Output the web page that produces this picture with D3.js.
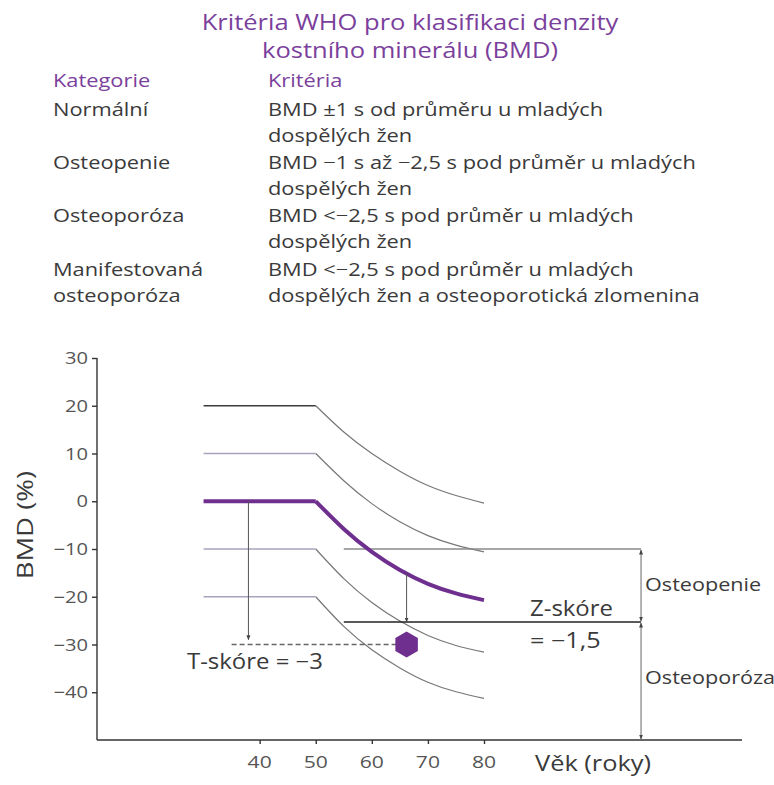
<!DOCTYPE html>
<html>
<head>
<meta charset="utf-8">
<script src="https://cdn.jsdelivr.net/npm/d3@7"></script>
<style>
  body { margin: 0; background: #fff; }
  svg { display: block; font-family: "Open Sans", "Noto Sans", sans-serif; }
</style>
</head>
<body>
<div class="container"></div>
<script>
// DATA

// title and the WHO table
const titleLines = ["Kritéria WHO pro klasifikaci denzity", "kostního minerálu (BMD)"];
const tableHeader = ["Kategorie", "Kritéria"];
const categories = ["Normální", "Osteopenie", "Osteoporóza", "Manifestovaná\nosteoporóza"];
const criteria = [
  "BMD ±1 s od průměru u mladých\ndospělých žen",
  "BMD −1 s až −2,5 s pod průměr u mladých\ndospělých žen",
  "BMD <−2,5 s pod průměr u mladých\ndospělých žen",
  "BMD <−2,5 s pod průměr u mladých\ndospělých žen a osteoporotická zlomenina"
];

// curves of BMD (%) by age: flat from 30 to 50, then falling
const ages = [30, 50, 55, 60, 65, 70, 75, 80];
const curvePlus2 = [20, 20, 14.5, 10, 6.3, 3.3, 1.2, -0.4];
const curvePlus1 = [10, 10, 4.3, -0.5, -4.3, -7.2, -9.2, -10.6];
const curveMean = [0, 0, -5.8, -10.6, -14.4, -17.3, -19.3, -20.7];
const curveMinus1 = [-10, -10, -16.2, -21.2, -25.1, -28.1, -30.2, -31.6];
const curveMinus2 = [-20, -20, -26.2, -31.1, -34.9, -37.9, -39.9, -41.3];

// axes
const yTicks = [30, 20, 10, 0, -10, -20, -30, -40];
const xTicks = [40, 50, 60, 70, 80];

// patient and thresholds
const patient = { age: 66.2, bmd: -30 };
const tScoreLine = { age: 38, top: 0, bottom: -29 };
const tScoreDashStart = 35;
const zScoreTop = -15.2; // mean curve at the patient's age
const osteopeniaLimit = -10;
const osteoporosisLimit = -25.3;
const zoneAges = [55, 108];

// SETUP
const container = d3.select("div.container");
const svg = container.append("svg")
  .attr("width", 774)
  .attr("height", 785);

const purple = "#6e2f8f";
const titlePurple = "#7b3f9c";
const textGray = "#3a3a3a";

// text drawn a bit wider than the font, as the scan is
function addText(parent, px, py, txt, size, sx, color, anchor) {
  return parent.append("text")
    .attr("transform", `translate(${px},${py}) scale(${sx},1)`)
    .attr("text-anchor", anchor || "start")
    .attr("fill", color || textGray)
    .style("font-size", size + "px")
    .text(txt);
}

// title
titleLines.forEach((t, i) => addText(svg, 410, 30 + i * 28, t, 22, 1.16, titlePurple, "middle"));

// table
tableHeader.forEach((t, i) => addText(svg, i === 0 ? 53 : 268, 87, t, 18.5, 1.18, titlePurple));

const rowY = [116, 169, 222, 276];
categories.forEach((c, i) => {
  c.split("\n").forEach((line, j) => addText(svg, 53, rowY[i] + j * 26, line, 18.5, 1.18));
  criteria[i].split("\n").forEach((line, j) => addText(svg, 268, rowY[i] + j * 26, line, 18.5, 1.18));
});

// CHART
const x = d3.scaleLinear().domain([11, 126]).range([97, 742]);
const y = d3.scaleLinear().domain([-50, 30]).range([740, 358]);

// axes
const yAxis = svg.append("g")
  .attr("transform", `translate(${x(11)},0)`)
  .call(d3.axisLeft(y).tickValues(yTicks).tickSize(5).tickFormat(""))
  .call(g => g.select(".domain").attr("d", `M0,${y(30)}V${y(-50)}`))
  .call(g => g.selectAll("line, path").attr("stroke", "#333").attr("stroke-width", 1.4));
yTicks.forEach(v => addText(svg, 88, y(v) + 6, v < 0 ? "−" + Math.abs(v) : String(v), 16.5, 1.22, "#555", "end"));

svg.append("g")
  .attr("transform", `translate(0,${y(-50)})`)
  .call(d3.axisBottom(x).tickValues(xTicks).tickSize(4).tickFormat(""))
  .call(g => g.select(".domain").attr("d", `M${x(11)},0H${x(126)}`))
  .call(g => g.selectAll("line, path").attr("stroke", "#333").attr("stroke-width", 1.4));
xTicks.forEach(v => addText(svg, x(v), 768, String(v), 16.5, 1.28, "#555", "middle"));

svg.append("text")
  .attr("transform", `translate(33,${y(-5)}) rotate(-90) scale(1.25,1)`)
  .attr("text-anchor", "middle")
  .attr("fill", textGray)
  .style("font-size", "22px")
  .text("BMD (%)");

addText(svg, 535, 771, "Věk (roky)", 21, 1.21);

// curves: straight flat part, smooth falling part
const flatLine = d3.line()
  .x((d, i) => x(ages[i]))
  .y(d => y(d));

const bendLine = d3.line()
  .defined((d, i) => i >= 1)
  .x((d, i) => x(ages[i]))
  .y(d => y(d))
  .curve(d3.curveNatural);

const grayCurves = [
  { data: curvePlus2, flat: "#3c3c3c" },
  { data: curvePlus1, flat: "#aaa2bc" },
  { data: curveMinus1, flat: "#aaa2bc" },
  { data: curveMinus2, flat: "#aaa2bc" }
];

grayCurves.forEach(c => {
  svg.append("path")
    .datum(c.data)
    .attr("d", bendLine)
    .attr("fill", "none")
    .attr("stroke", "#777")
    .attr("stroke-width", 1.2);
  svg.append("path")
    .datum(c.data.slice(0, 2))
    .attr("d", flatLine)
    .attr("fill", "none")
    .attr("stroke", c.flat)
    .attr("stroke-width", 1.6);
});

// zone lines
svg.append("line")
  .attr("x1", x(zoneAges[0])).attr("x2", x(zoneAges[1]))
  .attr("y1", y(osteopeniaLimit)).attr("y2", y(osteopeniaLimit))
  .attr("stroke", "#8a8a8a").attr("stroke-width", 1.6);
svg.append("line")
  .attr("x1", x(zoneAges[0])).attr("x2", x(zoneAges[1]))
  .attr("y1", y(osteoporosisLimit)).attr("y2", y(osteoporosisLimit))
  .attr("stroke", "#222").attr("stroke-width", 1.6);

// mean curve (purple, thick)
svg.append("path")
  .datum(curveMean.slice(0, 2))
  .attr("d", flatLine)
  .attr("fill", "none")
  .attr("stroke", purple)
  .attr("stroke-width", 4);
svg.append("path")
  .datum(curveMean)
  .attr("d", bendLine)
  .attr("fill", "none")
  .attr("stroke", purple)
  .attr("stroke-width", 4)
  .attr("stroke-linejoin", "round");

// arrow marker
svg.append("defs").append("marker")
  .attr("id", "arrow")
  .attr("viewBox", "0 0 10 10")
  .attr("refX", 9).attr("refY", 5)
  .attr("markerWidth", 5).attr("markerHeight", 5)
  .attr("orient", "auto-start-reverse")
  .append("path")
  .attr("d", "M0,1L10,5L0,9Z")
  .attr("fill", "#444");

// T-score line
svg.append("line")
  .attr("x1", x(tScoreLine.age)).attr("x2", x(tScoreLine.age))
  .attr("y1", y(tScoreLine.top)).attr("y2", y(tScoreLine.bottom))
  .attr("stroke", "#555").attr("stroke-width", 1)
  .attr("marker-end", "url(#arrow)");

svg.append("line")
  .attr("x1", x(tScoreDashStart)).attr("x2", x(patient.age) - 8)
  .attr("y1", y(patient.bmd)).attr("y2", y(patient.bmd))
  .attr("stroke", "#666").attr("stroke-width", 1.4)
  .attr("stroke-dasharray", "5,3");

addText(svg, 187, 669, "T-skóre = −3", 21, 1.14);

// Z-score line
svg.append("line")
  .attr("x1", x(patient.age)).attr("x2", x(patient.age))
  .attr("y1", y(zScoreTop)).attr("y2", y(osteoporosisLimit))
  .attr("stroke", "#555").attr("stroke-width", 1)
  .attr("marker-end", "url(#arrow)");

addText(svg, 530, 616, "Z-skóre", 21, 1.14);
addText(svg, 530, 648, "= −1,5", 21, 1.2);

// patient marker (hexagon)
const hex = d3.range(6).map(k => {
  const a = Math.PI / 3 * k - Math.PI / 2;
  return [x(patient.age) + 13 * Math.cos(a), y(patient.bmd) + 13 * Math.sin(a)];
});
svg.append("path")
  .attr("d", "M" + hex.join("L") + "Z")
  .attr("fill", purple);

// zone brackets
const bx = x(zoneAges[1]);
[[osteopeniaLimit, osteoporosisLimit], [osteoporosisLimit, -50]].forEach(([a, b]) => {
  svg.append("line")
    .attr("x1", bx).attr("x2", bx)
    .attr("y1", y(a) + 1).attr("y2", y(b) - 1)
    .attr("stroke", "#666").attr("stroke-width", 1)
    .attr("marker-start", "url(#arrow)")
    .attr("marker-end", "url(#arrow)");
});

addText(svg, bx + 4, 591, "Osteopenie", 18, 1.2);
addText(svg, bx + 4, 684, "Osteoporóza", 18, 1.2);
</script>
</body>
</html>
